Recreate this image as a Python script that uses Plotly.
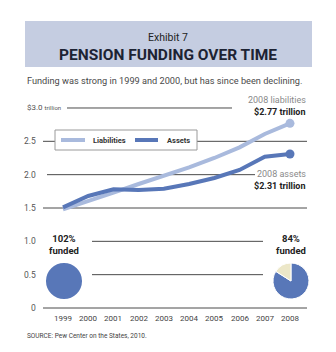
import plotly.graph_objects as go

# ---- data ----
years = [1999, 2000, 2001, 2002, 2003, 2004, 2005, 2006, 2007, 2008]
liabilities = [1.48, 1.60, 1.73, 1.86, 1.98, 2.11, 2.25, 2.41, 2.61, 2.77]
assets = [1.51, 1.68, 1.78, 1.77, 1.79, 1.86, 1.95, 2.07, 2.27, 2.31]
pie_years = [1999, 2008]
funded_pct = [102, 84]
y_ticks = [0, 0.5, 1.0, 1.5, 2.0, 2.5, 3.0]
y_tick_text = ["0", "0.5", "1.0", "1.5", "2.0", "2.5", "$3.0 trillion"]

# ---- canvas geometry (pixels) ----
W, H = 336, 352
X0, DX = 63.0, 25.22      # pixel of first year, pixels per year
Y0, DY = 308.0, 66.67     # pixel of value 0, pixels per trillion

LIAB_C = "#a9badd"
ASSET_C = "#5877b8"
CREAM = "#ece7c8"
FONT = "Roboto, Liberation Sans, sans-serif"


def px(x):
    return x / W


def py(y):
    return 1 - y / H


def label(x, y, text, size, color, xanchor="center", xref="paper", yref="paper"):
    fig.add_annotation(x=x, y=y, xref=xref, yref=yref, xanchor=xanchor, yanchor="middle",
                       showarrow=False, text=text,
                       font=dict(family=FONT, size=size, color=color))


fig = go.Figure()

fig.add_trace(go.Scatter(
    x=years, y=liabilities, mode="lines", line=dict(color=LIAB_C, width=4),
    hoverinfo="skip", showlegend=False))
fig.add_trace(go.Scatter(
    x=years, y=assets, mode="lines", line=dict(color=ASSET_C, width=4),
    hoverinfo="skip", showlegend=False))
fig.add_trace(go.Scatter(
    x=[years[-1]], y=[liabilities[-1]], mode="markers",
    marker=dict(color=LIAB_C, size=9), hoverinfo="skip", showlegend=False))
fig.add_trace(go.Scatter(
    x=[years[-1]], y=[assets[-1]], mode="markers",
    marker=dict(color=ASSET_C, size=9), hoverinfo="skip", showlegend=False))

# funded-ratio pies under the first and last years
for yr, pct in zip(pie_years, funded_pct):
    cx = X0 + (yr - years[0]) * DX + 1
    cy = 281
    r = 18
    f = min(pct, 100)
    fig.add_trace(go.Pie(
        values=[f, 100 - f], sort=False, direction="clockwise", rotation=0,
        marker=dict(colors=[ASSET_C, CREAM], line=dict(color="white", width=1 if f < 100 else 0)),
        textinfo="none", hoverinfo="skip", showlegend=False,
        domain=dict(x=[px(cx - r), px(cx + r)], y=[py(cy + r), py(cy - r)])))
    fig.add_annotation(
        x=px(cx), y=py(231), xref="paper", yref="paper", xanchor="center", yanchor="top",
        text=f"<b>{pct}%<br>funded</b>", showarrow=False,
        font=dict(family=FONT, size=9.5, color="#222222"))

shapes = []
# header band
shapes.append(dict(type="rect", xref="paper", yref="paper",
                   x0=px(25), x1=px(312), y0=py(67), y1=py(21),
                   fillcolor="#c5cde1", line=dict(width=0), layer="below"))

# gridline segments (pixel x spans), broken around labels and pies
grid_spans = {
    3.0: [(67, 232)],
    2.5: [(43, 55), (197, 307)],
    2.0: [(47, 255)],
    1.5: [(43, 307)],
    1.0: [(92, 263)],
    0.5: [(92, 263)],
    0.0: [(43, 307)],
}
for v, spans in grid_spans.items():
    for a, b in spans:
        shapes.append(dict(type="line", xref="paper", yref="y",
                           x0=px(a), x1=px(b), y0=v, y1=v,
                           line=dict(color="#4a4a4a", width=1), layer="below"))

# legend box
shapes.append(dict(type="rect", xref="paper", yref="paper",
                   x0=px(55), x1=px(197), y0=py(150), y1=py(130),
                   fillcolor="white", line=dict(color="#9a9a9a", width=1), layer="below"))
shapes.append(dict(type="line", xref="paper", yref="paper",
                   x0=px(61), x1=px(85), y0=py(140), y1=py(140),
                   line=dict(color=LIAB_C, width=4)))
shapes.append(dict(type="line", xref="paper", yref="paper",
                   x0=px(135), x1=px(158), y0=py(140), y1=py(140),
                   line=dict(color=ASSET_C, width=4)))
fig.update_layout(shapes=shapes)

label(px(91), py(140), "<b>Liabilities</b>", 7.5, "#333333", "left")
label(px(165), py(140), "<b>Assets</b>", 7.5, "#333333", "left")

# y tick labels
for v, t in zip(y_ticks, y_tick_text):
    if v == 3.0:
        label(px(25), v, "$3.0 <span style='font-size:6px'>trillion</span>", 8, "#555555",
              "left", yref="y")
    else:
        label(px(38), v, t, 8.5, "#555555", "right", yref="y")

# year labels
for yr in years:
    label(yr, py(318), str(yr), 8, "#444444", xref="x")

# end-point callouts
label(px(308), py(100), f"{years[-1]} liabilities", 9, "#8a8a8a", "right")
label(px(308), py(112), f"<b>${liabilities[-1]:.2f} trillion</b>", 9, "#222222", "right")
label(px(308), py(174), f"{years[-1]} assets", 9, "#8a8a8a", "right")
label(px(308), py(186), f"<b>${assets[-1]:.2f} trillion</b>", 9, "#222222", "right")

# titles
label(px(168), py(37), "Exhibit 7", 10.5, "#222222")
label(px(168), py(55), "<b>PENSION FUNDING OVER TIME</b>", 15.5, "#1d2333")
label(px(25), py(80), "Funding was strong in 1999 and 2000, but has since been declining.",
      9.2, "#4a4a4a", "left")
label(px(25), py(336), "SOURCE: Pew Center on the States, 2010.", 6.5, "#444444", "left")

fig.update_layout(
    width=W, height=H, margin=dict(l=0, r=0, t=0, b=0),
    paper_bgcolor="white", plot_bgcolor="rgba(0,0,0,0)",
    xaxis=dict(range=[years[0] - X0 / DX, years[0] + (W - X0) / DX], visible=False, fixedrange=True),
    yaxis=dict(range=[-(H - Y0) / DY, Y0 / DY], visible=False, fixedrange=True),
)

fig.write_html("out.html", config={"displayModeBar": False})
